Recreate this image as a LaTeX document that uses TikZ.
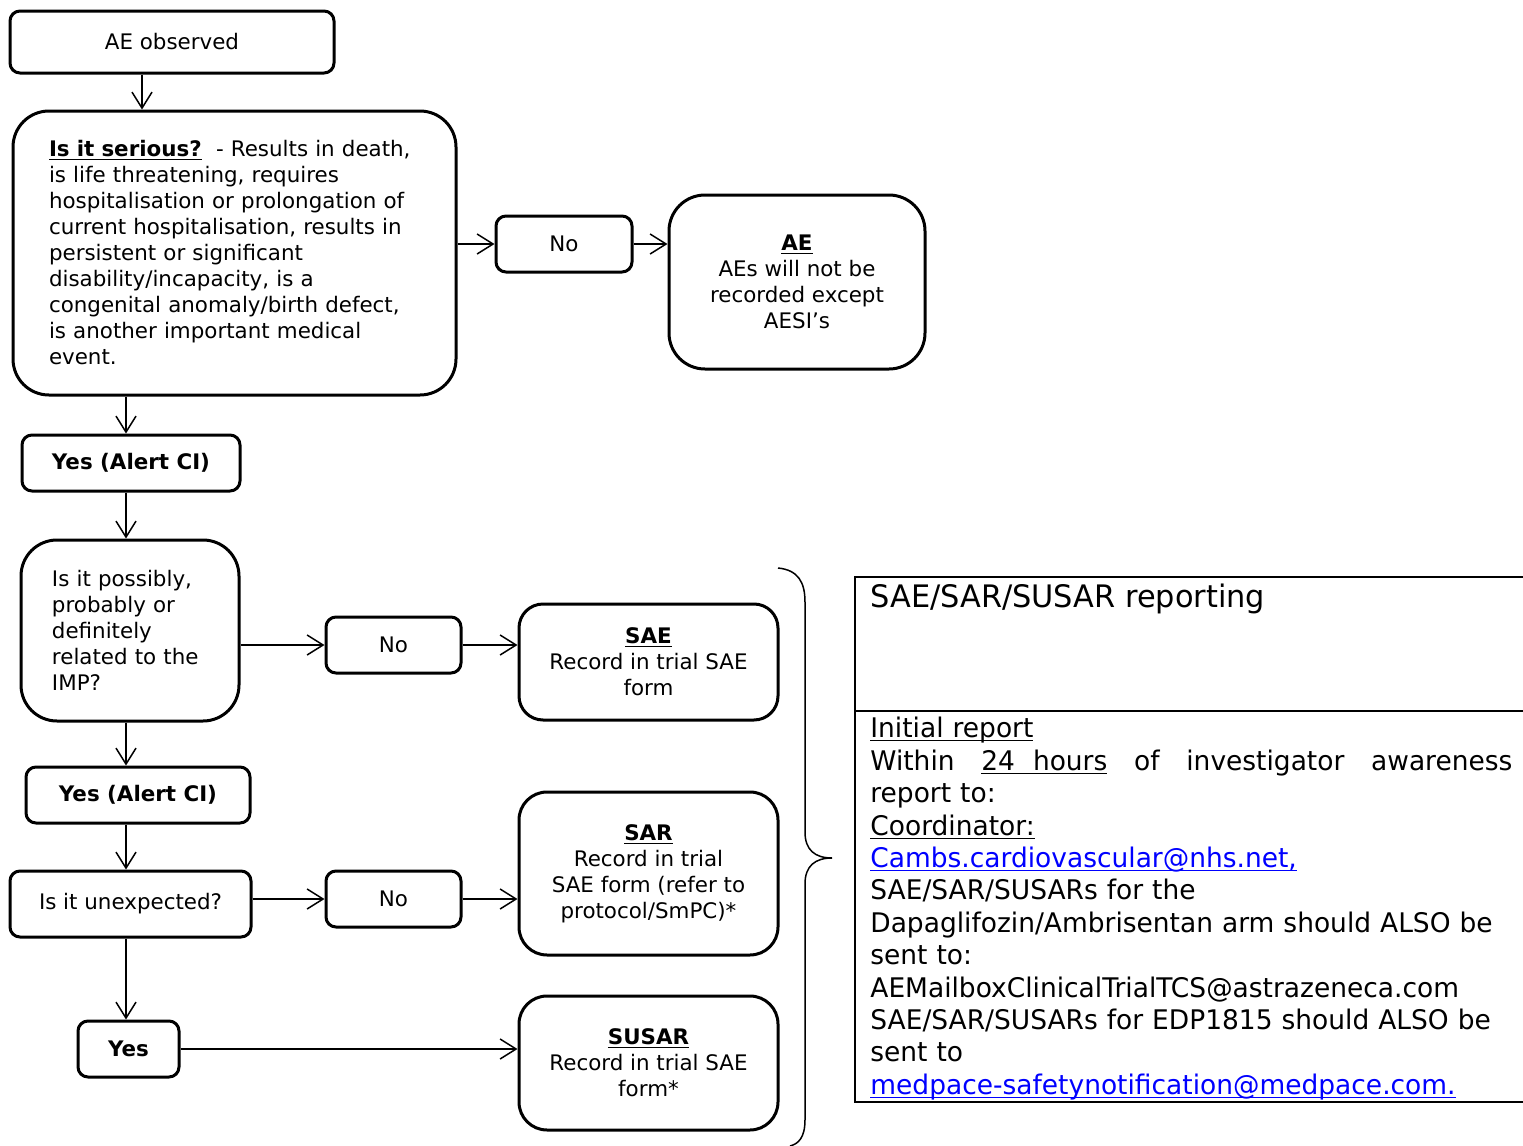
\documentclass[tikz,border=0pt]{standalone}
\usepackage{fontspec}
\setmainfont{DejaVu Sans}
\newfontfamily\tablefont[FakeStretch=0.98]{DejaVu Sans}
\usetikzlibrary{arrows.meta}
\definecolor{linkblue}{RGB}{0,0,255}
\newcommand{\flowsz}{\fontsize{10.7pt}{13pt}\selectfont}
\newcommand{\tabsz}{\fontsize{13.5pt}{16.2pt}\selectfont}
\newcommand{\ulx}[1]{\underline{\smash{#1}}\vphantom{#1}}
\begin{document}
\begin{tikzpicture}[
    x=0.5pt, y=-0.5pt,
    box/.style={rectangle, draw, line width=1.5pt, rounded corners=5pt, inner sep=0pt, align=center, font=\flowsz},
    bigbox/.style={box, rounded corners=18pt},
    link/.style={-{Straight Barb[length=8pt,width=10pt]}, line width=0.75pt},
    bracepath/.style={line width=0.75pt}
]
\useasboundingbox (0,0) rectangle (1523,1146);

% left column
\node[box, minimum width=162pt, minimum height=31pt] (aeobs) at (172,42) {AE observed};
\node[bigbox, minimum width=221.5pt, minimum height=142pt, text width=185.5pt, inner xsep=18pt, align=left] (serious) at (234.5,253) {%
\ulx{\textbf{Is it serious?}}~~- Results in death,\\
is life threatening, requires\\
hospitalisation or prolongation of\\
current hospitalisation, results in\\
persistent or significant\\
disability/incapacity, is a\\
congenital anomaly/birth defect,\\
is another important medical\\
event.};
\node[box, minimum width=109pt, minimum height=28pt, font=\flowsz\bfseries] (yes1) at (131,463) {Yes (Alert CI)};
\node[bigbox, minimum width=109pt, minimum height=90.5pt, text width=78pt, inner xsep=15.5pt, align=left] (possibly) at (130,630.5) {%
Is it possibly,\\
probably or\\
definitely\\
related to the\\
IMP?};
\node[box, minimum width=112pt, minimum height=28pt, font=\flowsz\bfseries] (yes2) at (138,795) {Yes (Alert CI)};
\node[box, minimum width=120.5pt, minimum height=33pt] (unexp) at (130.5,904) {Is it unexpected?};
\node[box, minimum width=50.5pt, minimum height=28pt, font=\flowsz\bfseries] (yes3) at (128.5,1049) {Yes};

% No boxes
\node[box, minimum width=68pt, minimum height=28pt] (no1) at (564,244) {No};
\node[box, minimum width=67.5pt, minimum height=28pt] (no2) at (393.5,645) {No};
\node[box, minimum width=67.5pt, minimum height=28pt] (no3) at (393.5,899) {No};

% outcome boxes
\node[bigbox, minimum width=128pt, minimum height=87pt] (ae) at (797,282) {\ulx{\textbf{AE}}\\AEs will not be\\recorded except\\AESI’s};
\node[bigbox, rounded corners=12pt, minimum width=129.5pt, minimum height=58pt] (sae) at (648.5,662) {\ulx{\textbf{SAE}}\\Record in trial SAE\\form};
\node[bigbox, rounded corners=14pt, minimum width=129.5pt, minimum height=81.5pt] (sar) at (648.5,873.5) {\ulx{\textbf{SAR}}\\Record in trial\\SAE form (refer to\\protocol/SmPC)*};
\node[bigbox, rounded corners=14pt, minimum width=129.5pt, minimum height=67pt] (susar) at (648.5,1063) {\ulx{\textbf{SUSAR}}\\Record in trial SAE\\form*};

% connectors
\coordinate (colA) at (142,0);
\coordinate (colB) at (126,0);
\draw[link] (aeobs.south -| colA) -- (serious.north -| colA);
\draw[link] (serious.south -| colB) -- (yes1.north -| colB);
\draw[link] (yes1.south -| colB) -- (possibly.north -| colB);
\draw[link] (possibly.south -| colB) -- (yes2.north -| colB);
\draw[link] (yes2.south -| colB) -- (unexp.north -| colB);
\draw[link] (unexp.south -| colB) -- (yes3.north -| colB);
\draw[link] (serious.east |- no1) -- (no1.west);
\draw[link] (no1.east) -- (ae.west |- no1);
\draw[link] (possibly.east |- no2) -- (no2.west);
\draw[link] (no2.east) -- (sae.west |- no2);
\draw[link] (unexp.east |- no3) -- (no3.west);
\draw[link] (no3.east) -- (sar.west |- no3);
\draw[link] (yes3.east) -- (susar.west |- yes3);

% brace
\coordinate (btip) at (832,858);
\draw[bracepath] (778,568) .. controls (798,570) and (805,582) .. (805,602) -- (805,832)
  .. controls (805,850) and (815,858) .. (btip)
  .. controls (815,858) and (805,866) .. (805,884) -- (805,1120)
  .. controls (805,1138) and (798,1144) .. (790,1146);

% reporting table
\draw[line width=1pt] (1530,577) -| (855,1102) -- (1530,1102);
\draw[line width=1pt] (855,711) -- (1530,711);
\node[anchor=base west, inner sep=0pt, font=\tablefont\fontsize{15.5pt}{17pt}\selectfont] (ttitle) at (870,607) {SAE/SAR/SUSAR reporting};
\node[anchor=north west, inner sep=0pt, text width=321pt, align=left, font=\tablefont\tabsz] (tbody) at (870,717) {%
\ulx{Initial report}\\
Within\hfill\ulx{24~~hours}\hfill of\hfill investigator\hfill awareness\\
report to:\\
\ulx{Coordinator:}\\
{\color{linkblue}\ulx{Cambs.cardiovascular@nhs.net,}}\\
SAE/SAR/SUSARs for the\\
Dapaglifozin/Ambrisentan arm should ALSO be\\
sent to:\\
AEMailboxClinicalTrialTCS@astrazeneca.com\\
SAE/SAR/SUSARs for EDP1815 should ALSO be\\
sent to\\
{\color{linkblue}\ulx{medpace-safetynotification@medpace.com.}}};
\end{tikzpicture}
\end{document}
